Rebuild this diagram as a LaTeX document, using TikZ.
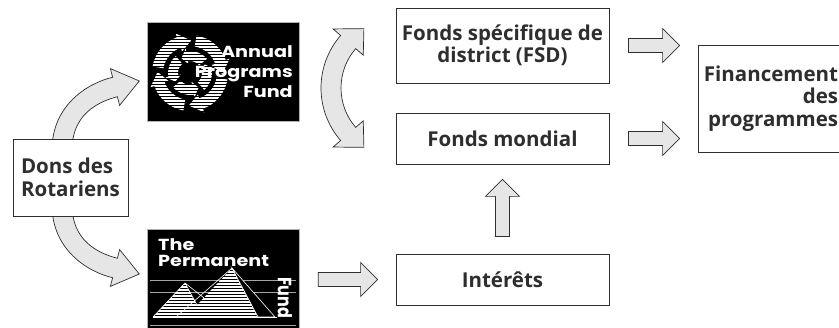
\documentclass[tikz,border=0pt]{standalone}
\usepackage{fontspec}
\setmainfont{Open Sans}
\newfontfamily\logofont{Poppins}
\usetikzlibrary{calc}

\definecolor{ink}{HTML}{2E2E2E}
\definecolor{fatgray}{HTML}{E6E6E6}

\tikzset{
	box/.style={draw=ink, line width=0.8pt, fill=white, text=ink, inner sep=0pt,
		font=\bfseries\fontsize{20.5}{22.5}\selectfont},
	fat/.style={draw=ink, line width=0.7pt, fill=fatgray, line join=miter},
	logo/.style={draw=gray!60, line width=0.6pt, fill=black},
	logotext/.style={text=white, inner sep=0pt, xscale=1.2,
		font=\logofont\bfseries\fontsize{16}{20}\selectfont},
	stripe/.style={white, line width=1.8pt},
}

\newcommand{\fatright}[2]{%
	\draw[fat] let \p1=(#1), \p2=(#2) in
		(\x1+19pt,\y1+7pt) -- (\x2-35pt,\y1+7pt) -- (\x2-35pt,\y1+17pt)
		-- (\x2-18pt,\y1) -- (\x2-35pt,\y1-17pt) -- (\x2-35pt,\y1-7pt)
		-- (\x1+19pt,\y1-7pt) -- cycle;}
\newcommand{\fatup}[2]{%
	\draw[fat] let \p1=(#1), \p2=(#2) in
		(\x1-7pt,\y1+17pt) -- (\x1-7pt,\y2-32pt) -- (\x1-17pt,\y2-32pt)
		-- (\x1,\y2-15pt) -- (\x1+17pt,\y2-32pt) -- (\x1+7pt,\y2-32pt)
		-- (\x1+7pt,\y1+17pt) -- cycle;}

\begin{document}
\begin{tikzpicture}[x=1pt, y=-1pt]
	\useasboundingbox (0,0) rectangle (839,328);

	\draw[fat] (52,150) .. controls (52,105) and (88,83) .. (112.6,77.3) -- (110.4,68.6)
		-- (139.3,81) -- (119.6,105.4) -- (117.4,96.7) .. controls (97,102) and (72,115) .. (72,150) -- cycle;
	\draw[fat] (52,205) .. controls (52,250) and (88,272) .. (112.6,277.7) -- (110.4,286.4)
		-- (139.3,274) -- (119.6,249.6) -- (117.4,258.3) .. controls (97,253) and (72,240) .. (72,205) -- cycle;

	\node[box, minimum width=115pt, minimum height=77pt, align=left] at (70.5,177.5) (dons) {Dons des\\Rotariens};

	\node[logo, minimum width=152pt, minimum height=99pt, inner sep=0pt] at (223.5,71.5) (apf) {};
	\fill (150,25) rectangle (297,118);
	\coordinate (apfc) at (190,73);
	\begin{scope}
		\clip foreach \a in {10,100,190,280} {
			($(apfc)+(\a:38)$) arc[start angle=\a, end angle=\a+60, radius=38]
			-- ($(apfc)+(\a+60:42)$) -- ($(apfc)+(\a+82:32.5)$) -- ($(apfc)+(\a+60:23)$)
			-- ($(apfc)+(\a+60:27)$) arc[start angle=\a+60, end angle=\a, radius=27] -- cycle
			($(apfc)+(\a+40:22)$) arc[start angle=\a+40, end angle=\a-20, radius=22]
			-- ($(apfc)+(\a-20:25)$) -- ($(apfc)+(\a-40:17)$) -- ($(apfc)+(\a-20:9)$)
			-- ($(apfc)+(\a-20:12)$) arc[start angle=\a-20, end angle=\a+40, radius=12] -- cycle
		};
		\foreach \y in {29,32,...,119}
			\draw[stripe] (150,\y) -- (240,\y);
	\end{scope}
	\node[logotext, anchor=east, align=right] at (293,72) (apfname) {Annual\\Programs\\Fund};

	\node[logo, minimum width=152pt, minimum height=111pt, inner sep=0pt] at (223,284.5) (perm) {};
	\fill (150,233) rectangle (296,340);
	\draw[gray!70, line width=0.4pt] (150,280) -- (296,280) (150,292) -- (296,292) (150,325) -- (296,325);
	\begin{scope}
		\clip (153,317) -- (185,283) -- (197,305) -- (232,268) -- (258,317) -- cycle;
		\foreach \y in {269,272,...,318}
			\draw[stripe] (150,\y) -- (270,\y);
	\end{scope}
	\draw[white, line width=0.6pt] (153,317) -- (185,283) -- (197,305) (185,283) -- (204,298)
		(176,317) -- (232,268) -- (258,317);
	\draw[white, line width=0.6pt, fill=black] (232,268) -- (275,317) -- (258,317) -- cycle;
	\draw[white, line width=0.8pt] (153,317) -- (277,317);
	\node[logotext, anchor=north west, align=left, font=\logofont\bfseries\fontsize{16}{16}\selectfont]
		at (158,238) (permname) {The\\Permanent};
	\node[logotext, anchor=west, rotate=-90] at (285,277) (permfund) {Fund};

	\coordinate (bend) at (401,88);
	\draw[fat] ($(bend)+(139:80)$) arc[start angle=139, end angle=221, radius=80]
		-- ($(bend)+(221:90)$) -- ($(bend)+(238:70)$) -- ($(bend)+(221:50)$) -- ($(bend)+(221:60)$)
		arc[start angle=221, end angle=139, radius=60]
		-- ($(bend)+(139:50)$) -- ($(bend)+(122:70)$) -- ($(bend)+(139:90)$) -- cycle;

	\node[box, minimum width=213pt, minimum height=75pt, align=center] at (502.5,45.5) (fsd) {Fonds spécifique de\\district (FSD)};
	\node[box, minimum width=213pt, minimum height=51pt] at (502.5,138.5) (mondial) {Fonds mondial};
	\node[box, minimum width=213pt, minimum height=51pt] at (502.5,279.5) (int) {Intérêts};
	\node[box, minimum width=146pt, minimum height=107pt, align=right] at (771,98.5) (fin) {Financement\\des\\programmes};

	\fatright{fsd.east}{fin.west}
	\fatright{mondial.east}{fin.west}
	\fatright{perm.east |- int.west}{int.west}
	\fatup{int.north}{mondial.south}
\end{tikzpicture}
\end{document}
